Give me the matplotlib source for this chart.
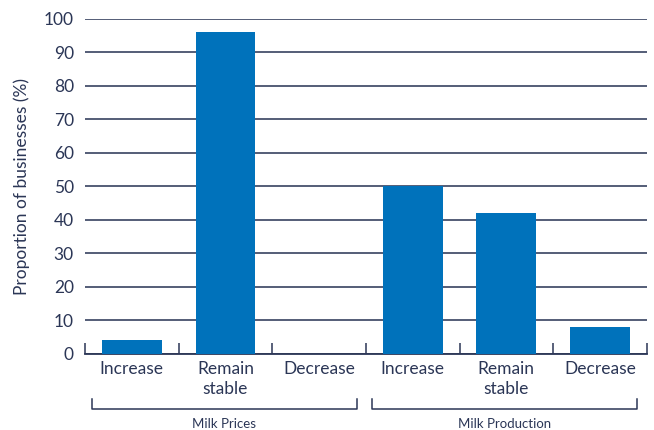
import matplotlib
matplotlib.use("Agg")
import matplotlib.pyplot as plt
import matplotlib.transforms as mtransforms

# survey results: expected change over the next period
categories = ["Increase", "Remain\nstable", "Decrease", "Increase", "Remain\nstable", "Decrease"]
values = [4, 96, 0, 50, 42, 8]
groups = ["Milk Prices", "Milk Production"]
group_spans = [(-0.43, 2.40), (2.57, 5.40)]

navy = "#2B3656"
blue = "#0072BB"

plt.rcParams["font.family"] = ["Lato", "DejaVu Sans"]

fig = plt.figure(figsize=(6.54, 4.30), dpi=100)
ax = fig.add_axes([0.130, 0.177, 0.859, 0.779])

x = list(range(len(categories)))
ax.bar(x, values, width=0.64, color=blue, zorder=3)

ax.set_xlim(-0.5, len(categories) - 0.5)
ax.set_ylim(0, 100)
ax.set_yticks(range(0, 101, 10))
ax.yaxis.grid(True, color="#46506C", linewidth=1.3, zorder=0)
ax.set_axisbelow(True)

for side in ["top", "right", "left"]:
    ax.spines[side].set_visible(False)
ax.spines["bottom"].set_color(navy)
ax.spines["bottom"].set_linewidth(1.3)

ax.set_xticks(x)
ax.set_xticklabels(categories, fontsize=12.5, color=navy, linespacing=1.3)
ax.tick_params(axis="x", which="major", length=0, pad=5)
ax.set_xticks([i - 0.5 for i in range(len(categories) + 1)], minor=True)
ax.tick_params(axis="x", which="minor", direction="in", length=8, width=1.1, color=navy)
ax.tick_params(axis="y", length=0, pad=8, labelsize=12.5, labelcolor=navy)

ax.set_ylabel("Proportion of businesses (%)", fontsize=12.5, color=navy, labelpad=10)

# group brackets under the category labels
trans = mtransforms.blended_transform_factory(ax.transData, ax.transAxes)
for name, (x0, x1) in zip(groups, group_spans):
    ax.plot([x0, x0, x1, x1], [-0.134, -0.164, -0.164, -0.134], color=navy,
            linewidth=1.1, transform=trans, clip_on=False)
    ax.text((x0 + x1) / 2, -0.208, name, transform=trans, ha="center", va="center",
            fontsize=9.5, color=navy)

fig.savefig("out.png", dpi=100)
